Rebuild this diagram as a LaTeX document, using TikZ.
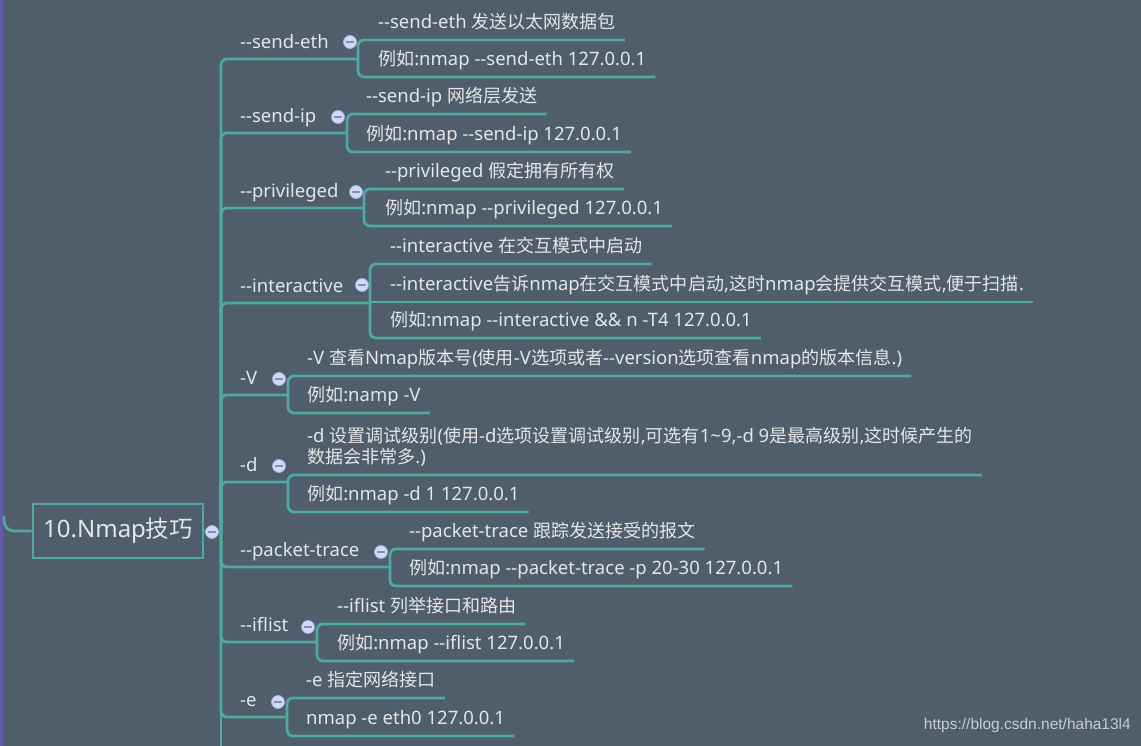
\documentclass[tikz,border=0pt]{standalone}
\usepackage{fontspec}
\setmainfont{Noto Sans}
\newfontfamily\cjk{Noto Sans CJK SC}[Scale=0.975]
\newfontfamily\wmfont{Liberation Sans}
\usetikzlibrary{calc}
\newcommand\zh[1]{{\cjk #1}}
\newcommand\dd{-\kern0pt-}
\definecolor{bgc}{RGB}{80,93,106}
\definecolor{lnc}{RGB}{78,170,160}
\definecolor{txc}{RGB}{228,230,232}
\definecolor{ppl}{RGB}{98,90,172}
\definecolor{dotf}{RGB}{208,218,245}
\definecolor{dotd}{RGB}{160,175,218}
\definecolor{dotm}{RGB}{130,144,182}
\definecolor{wmc}{RGB}{200,204,208}
\begin{document}
\begin{tikzpicture}[x=1pt,y=-1pt,
  ln/.style={draw=lnc, line width=2.8pt, rounded corners=6pt},
  leaf/.style={anchor=south west, inner xsep=9pt, inner ysep=0pt, text depth=11.5pt,
    text=txc, font=\fontsize{18.5}{21}\selectfont, align=left},
  lab/.style={leaf, text depth=10pt},
  dot/.style={circle, fill=dotf, draw=dotd, line width=0.8pt, minimum size=13pt, inner sep=0pt,
    path picture={\draw[dotm, line width=1.3pt] ([xshift=-3.6pt]path picture bounding box.center) -- ([xshift=3.6pt]path picture bounding box.center);}},
  rootbox/.style={draw=lnc, line width=2.8pt, minimum width=170pt, minimum height=54pt,
    inner sep=0pt, text=txc, font=\fontsize{24}{26}\selectfont}
]
\useasboundingbox (0,0) rectangle (1141,746);
\clip (0,0) rectangle (1141,746);
\fill[bgc] (0,0) rectangle (1141,746);
\draw[ppl, line width=3pt] (1.5,0) -- (1.5,746);

% root
\node[rootbox] (root) at (118,531) {10.Nmap\zh{技巧}};
\coordinate (hub) at (221,532);
\coordinate (upper) at (4,516);
\draw[ln, rounded corners=10pt] (upper) |- (root.west);
\draw[ln] (root.east) -- (hub);
\draw[ln] (hub) -- (221,760);

% labels
\node[lab] (L1) at (231,59) {\dd send-eth};
\node[lab] (L2) at (231,133) {\dd send-ip};
\node[lab] (L3) at (231,208) {\dd privileged};
\node[lab] (L4) at (231,303) {\dd interactive};
\node[lab] (L5) at (231,395) {-V};
\node[lab] (L6) at (231,482) {-d};
\node[lab] (L7) at (231,567) {\dd packet-trace};
\node[lab] (L8) at (231,642) {\dd iflist};
\node[lab] (L9) at (231,717) {-e};

% leaves
\node[leaf] (C1a) at (369,40) {\dd send-eth \zh{发送以太网数据包}};
\node[leaf] (C1b) at (369,77) {\zh{例如}:nmap \dd send-eth 127.0.0.1};
\node[leaf] (C2a) at (357,114) {\dd send-ip \zh{网络层发送}};
\node[leaf] (C2b) at (357,152) {\zh{例如}:nmap \dd send-ip 127.0.0.1};
\node[leaf] (C3a) at (376,189) {\dd privileged \zh{假定拥有所有权}};
\node[leaf] (C3b) at (376,226) {\zh{例如}:nmap \dd privileged 127.0.0.1};
\node[leaf] (C4a) at (381,264) {\dd interactive \zh{在交互模式中启动}};
\node[leaf] (C4b) at (381,302) {\dd interactive\zh{告诉}nmap\zh{在交互模式中启动},\zh{这时}nmap\zh{会提供交互模式},\zh{便于扫描}.};
\node[leaf] (C4c) at (381,338) {\zh{例如}:nmap \dd interactive \&\& n -T4 127.0.0.1};
\node[leaf] (C5a) at (298,376) {-V \zh{查看}Nmap\zh{版本号}(\zh{使用}-V\zh{选项或者}\dd version\zh{选项查看}nmap\zh{的版本信息}.)};
\node[leaf] (C5b) at (298,413) {\zh{例如}:namp -V};
\node[leaf] (C6a) at (298,475) {-d \zh{设置调试级别}(\zh{使用}-d\zh{选项设置调试级别},\zh{可选有}1\textasciitilde 9,-d 9\zh{是最高级别},\zh{这时候产生的}\\\zh{数据会非常多}.)};
\node[leaf] (C6b) at (298,512) {\zh{例如}:nmap -d 1 127.0.0.1};
\node[leaf] (C7a) at (400,549) {\dd packet-trace \zh{跟踪发送接受的报文}};
\node[leaf] (C7b) at (400,586) {\zh{例如}:nmap \dd packet-trace -p 20-30 127.0.0.1};
\node[leaf] (C8a) at (328,624) {\dd iflist \zh{列举接口和路由}};
\node[leaf] (C8b) at (328,661) {\zh{例如}:nmap \dd iflist 127.0.0.1};
\node[leaf] (C9a) at (297,698) {-e \zh{指定网络接口}};
\node[leaf] (C9b) at (297,736) {nmap -e eth0 127.0.0.1};

% branches from trunk
\draw[ln] (hub) |- (L1.south west) -- (358,59);
\draw[ln] (hub) |- (L2.south west) -- (347,133);
\draw[ln] (hub) |- (L3.south west) -- (364,208);
\draw[ln] (hub) |- (L4.south west) -- (370,303);
\draw[ln] (hub) |- (L5.south west) -- (288,395);
\draw[ln] (hub) |- (L6.south west) -- (288,482);
\draw[ln] (hub) |- (L7.south west) -- (390,567);
\draw[ln] (hub) |- (L8.south west) -- (317,642);
\draw[ln] (hub) |- (L9.south west) -- (287,717);

% brackets to leaves
\draw[ln] (C1a.south east) -- (358,40) -- (358,77) -- (C1b.south east);
\draw[ln] (C2a.south east) -- (347,114) -- (347,152) -- (C2b.south east);
\draw[ln] (C3a.south east) -- (364,189) -- (364,226) -- (C3b.south east);
\draw[ln] (C4a.south east) -- (370,264) -- (370,338) -- (C4c.south east);
\draw[ln] (370,302) -- (C4b.south east);
\draw[ln] (C5a.south east) -- (288,376) -- (288,413) -- (C5b.south east);
\draw[ln] (C6a.south east) -- (288,475) -- (288,512) -- (C6b.south east);
\draw[ln] (C7a.south east) -- (390,549) -- (390,586) -- (C7b.south east);
\draw[ln] (C8a.south east) -- (317,624) -- (317,661) -- (C8b.south east);
\draw[ln] (C9a.south east) -- (287,698) -- (287,736) -- (C9b.south east);

% collapse dots
\node[dot] (D0) at (212,532) {};
\node[dot] (D1) at (350,42) {};
\node[dot] (D2) at (338,117) {};
\node[dot] (D3) at (356,192) {};
\node[dot] (D4) at (362,285) {};
\node[dot] (D5) at (279,379) {};
\node[dot] (D6) at (279,466) {};
\node[dot] (D7) at (381,552) {};
\node[dot] (D8) at (308,627) {};
\node[dot] (D9) at (278,702) {};

% watermark
\node[anchor=east, inner sep=0pt, text=wmc, font=\wmfont\fontsize{15.5}{18}\selectfont] (wm) at (1131,725) {https://blog.csdn.net/haha13l4};
\end{tikzpicture}
\end{document}
